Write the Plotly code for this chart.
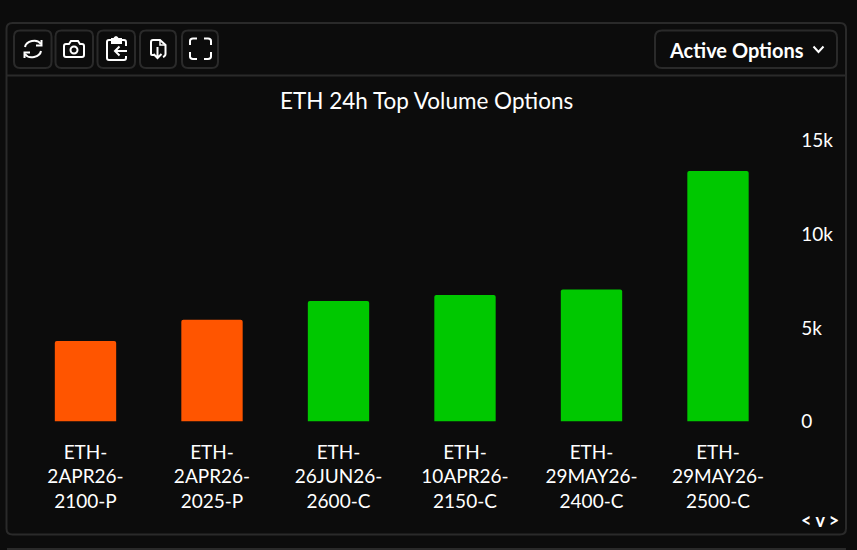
import plotly.graph_objects as go

W, H = 857, 550
FONT = "Lato"
BG = "#0c0c0c"
EDGE = "#2a2a2a"
WHITE = "#ffffff"

categories = ["ETH-<br>2APR26-<br>2100-P", "ETH-<br>2APR26-<br>2025-P", "ETH-<br>26JUN26-<br>2600-C",
              "ETH-<br>10APR26-<br>2150-C", "ETH-<br>29MAY26-<br>2400-C", "ETH-<br>29MAY26-<br>2500-C"]
volumes = [4300, 5440, 6440, 6760, 7050, 13380]
bar_colors = ["#ff5500", "#ff5500", "#00c800", "#00c800", "#00c800", "#00c800"]
tick_values = [0, 5000, 10000, 15000]
tick_labels = ["0", "5k", "10k", "15k"]


def px(s):
    """Convert a pixel-space SVG path ('M x y L x y ...') to paper fractions."""
    out, is_x = [], True
    for tok in s.split():
        if tok.isalpha():
            out.append(tok)
            is_x = True
        else:
            v = float(tok)
            out.append(f"{v / W:.5f}" if is_x else f"{1 - v / H:.5f}")
            is_x = not is_x
    return " ".join(out)


def rrect(x0, y0, x1, y1, r):
    return (f"M {x0 + r} {y0} L {x1 - r} {y0} Q {x1} {y0} {x1} {y0 + r} L {x1} {y1 - r} Q {x1} {y1} {x1 - r} {y1} "
            f"L {x0 + r} {y1} Q {x0} {y1} {x0} {y1 - r} L {x0} {y0 + r} Q {x0} {y0} {x0 + r} {y0} Z")


def pshape(path, color=WHITE, width=2, fill=None):
    return dict(type="path", xref="paper", yref="paper", path=px(path), layer="above",
                line=dict(color=color, width=width), fillcolor=fill or "rgba(0,0,0,0)")


shapes = [
    pshape(rrect(6.5, 23, 846, 534.5, 6), EDGE, 2),
    pshape("M 7 75.5 L 845 75.5", EDGE, 2),
    pshape("M 7 549 L 846 549", EDGE, 2),
    pshape(rrect(655, 30.5, 837, 68, 7), EDGE, 2),
    pshape("M 813.5 46.5 L 818.5 52 L 823.5 46.5", WHITE, 2),
]
for x0, x1 in [(14, 51.5), (55.5, 93), (97.5, 135), (140, 176), (182, 218)]:
    shapes.append(pshape(rrect(x0, 30.5, x1, 68, 6), EDGE, 2))

# refresh
shapes += [
    pshape("M 25 47 C 26 41 37 38 41 44", WHITE, 2),
    pshape("M 41 51 C 40 57 29 60 25 54", WHITE, 2),
    pshape("M 41.5 40 L 41.5 45.5 L 36 45.5", WHITE, 2),
    pshape("M 24.5 58 L 24.5 52.5 L 30 52.5", WHITE, 2),
]
# camera
shapes += [
    pshape("M 66 44 L 69 44 L 71 41 L 78 41 L 80 44 L 82 44 Q 84 44 84 46 L 84 55 Q 84 57 82 57 L 66 57 "
           "Q 64 57 64 55 L 64 46 Q 64 44 66 44 Z", WHITE, 2),
    dict(type="circle", xref="paper", yref="paper", layer="above", x0=70.5 / W, x1=77.5 / W,
         y0=1 - 53.5 / H, y1=1 - 46.5 / H, line=dict(color=WHITE, width=2)),
]
# clipboard
shapes += [
    pshape("M 126 46 L 126 42 Q 126 40 124 40 L 109 40 Q 107 40 107 42 L 107 58 Q 107 60 109 60 L 124 60 "
           "Q 126 60 126 58 L 126 56", WHITE, 2),
    pshape("M 112 41 L 112 39 L 114 39 Q 116 35 118 39 L 121 39 L 121 43 L 112 43 Z", WHITE, 2, WHITE),
    pshape("M 127 51 L 115 51 M 119.5 46.5 L 115 51 L 119.5 55.5", WHITE, 2),
]
# document
shapes += [
    pshape("M 154 55 L 152 55 Q 151 55 151 54 L 151 42 Q 151 40 153 40 L 160 40 L 165.5 45 L 165.5 54 Q 165.5 56 163 57",
           WHITE, 2),
    pshape("M 160 40 L 160 45 L 165 45", WHITE, 1.5),
    pshape("M 157.5 47 L 157.5 58 M 153.5 54 L 157.5 58 L 161.5 54", WHITE, 2),
]
# fullscreen
shapes += [
    pshape("M 190 45 L 190 41 Q 190 38.5 193 38.5 L 197 38.5", WHITE, 2),
    pshape("M 204 38.5 L 208 38.5 Q 211 38.5 211 41 L 211 45", WHITE, 2),
    pshape("M 211 52 L 211 56.5 Q 211 59 208 59 L 204 59", WHITE, 2),
    pshape("M 197 59 L 193 59 Q 190 59 190 56.5 L 190 52", WHITE, 2),
]


def note(text, x, y, size, anchor="center", color=WHITE):
    return dict(text=text, x=x / W, y=1 - y / H, xref="paper", yref="paper", showarrow=False,
                xanchor=anchor, yanchor="middle", font=dict(family=FONT, size=size, color=color))


annotations = [
    note("ETH 24h Top Volume Options", 426.5, 100, 22.5),
    note("<b>Active Options</b>", 736, 50, 20),
    note("<b>&lt; v &gt;</b>", 820, 520, 18),
]

fig = go.Figure(go.Bar(x=categories, y=volumes, marker=dict(color=bar_colors, line=dict(width=0), cornerradius=2),
                       width=0.485, hoverinfo="skip"))
fig.update_layout(
    width=W, height=H, margin=dict(l=0, r=0, t=0, b=0, pad=0), autosize=False,
    paper_bgcolor=BG, plot_bgcolor=BG, showlegend=False,
    shapes=shapes, annotations=annotations,
    font=dict(family=FONT, color=WHITE, size=19),
    xaxis=dict(domain=[22.25 / W, 781.25 / W], type="category", categoryorder="array", categoryarray=categories,
               automargin=False, showgrid=False, zeroline=False, showline=False, ticks="", ticklabelstandoff=17,
               tickangle=0, tickfont=dict(family=FONT, size=19, color=WHITE)),
    yaxis=dict(domain=[1 - 421.5 / H, 1 - 140.7 / H], range=[0, 15000], side="right", tickvals=tick_values,
               automargin=False, ticktext=tick_labels, showgrid=False, zeroline=False, showline=False, ticks="",
               ticklabelstandoff=19, tickfont=dict(family=FONT, size=19, color=WHITE)),
)
fig.write_html("out.html", config=dict(displayModeBar=False),
               post_script="document.body.style.margin='0';document.body.style.background='#0c0c0c';")
